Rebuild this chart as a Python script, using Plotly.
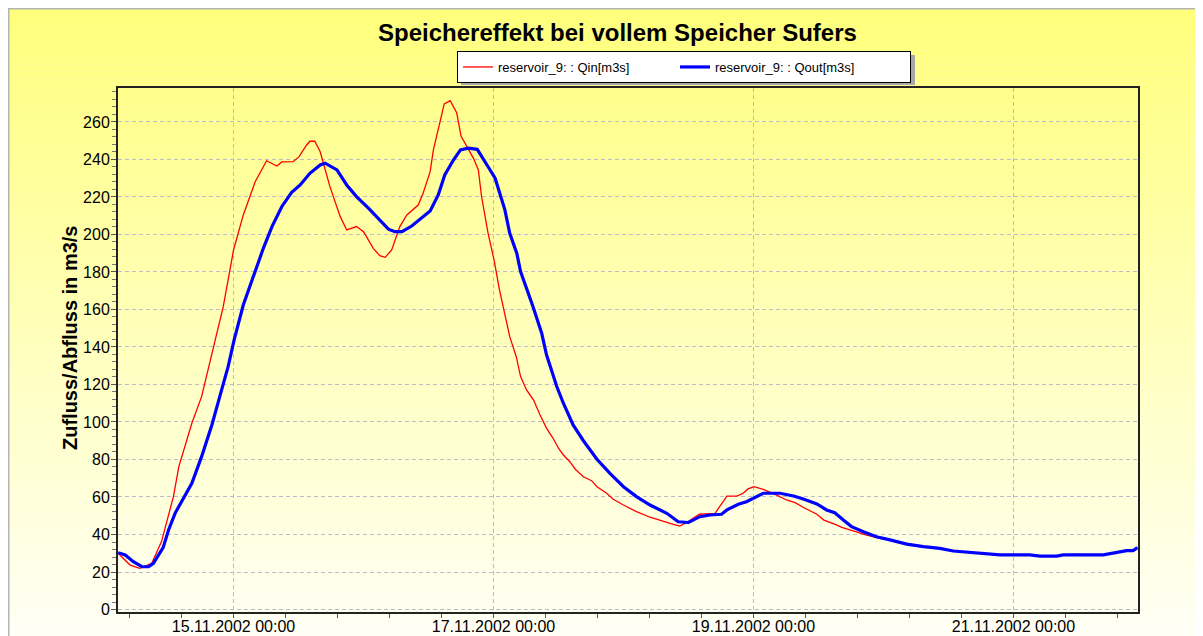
import pandas as pd
import plotly.graph_objects as go

# ---------------- data (hours relative to 15.11.2002 00:00) ----------------
BASE = "2002-11-15 00:00"

qin_hours = [-21.3, -19.1, -17.3, -15.1, -13.3, -11.1, -10.1, -7.7, -5.9, -4.3,
             -1.9, 0.0, 1.8, 4.0, 6.1, 8.0, 8.9, 11.0, 12.1, 13.5,
             14.1, 15.0, 16.0, 17.8, 19.7, 20.9, 22.7, 24.0, 25.8, 27.0,
             28.0, 29.2, 30.7, 32.0, 34.1, 35.0, 36.3, 36.9, 38.1, 38.9,
             40.0, 41.2, 42.0, 43.1, 44.3, 45.2, 45.8, 47.0, 48.1, 49.1,
             50.1, 51.0, 52.2, 53.0, 54.1, 55.4, 56.6, 57.8, 59.0, 60.0,
             60.9, 62.1, 63.1, 64.6, 66.1, 67.1, 68.9, 70.1, 72.0, 74.4,
             76.9, 79.4, 81.2, 82.4, 84.1, 86.0, 88.9, 91.1, 92.9, 94.1,
             95.0, 96.1, 97.8, 100.0, 102.1, 103.7, 105.5, 107.7, 109.0, 111.1,
             112.3, 114.4, 116.9, 119.4, 121.2, 124.3, 127.4, 130.4, 132.9, 136.0,
             139.1, 141.5, 147.0, 148.9, 152.0, 153.2, 155.6, 160.6, 162.4, 164.9,
             166.1, 166.9]
qin_values = [30.0, 23.7, 22.0, 24.6, 36.2, 60.2, 76.2, 99.3, 113.5, 133.1,
              161.5, 191.7, 210.4, 228.1, 239.3, 236.5, 238.7, 238.8, 241.5, 247.7,
              249.7, 249.7, 244.1, 225.5, 209.5, 202.4, 204.2, 201.5, 192.6, 188.7,
              187.8, 191.7, 204.2, 210.4, 215.7, 222.0, 233.5, 245.1, 259.3, 269.6,
              271.3, 264.9, 252.5, 246.8, 240.6, 234.4, 220.1, 200.6, 186.4, 170.4,
              158.0, 145.5, 134.8, 124.2, 117.1, 111.7, 103.7, 96.6, 91.3, 86.0,
              82.4, 78.8, 74.8, 70.8, 68.7, 65.5, 62.0, 58.8, 55.7, 52.2,
              49.2, 46.8, 45.4, 44.5, 47.2, 50.8, 51.3, 60.5, 60.5, 62.0,
              64.3, 65.5, 64.1, 61.4, 58.4, 57.0, 54.0, 50.8, 47.7, 45.4,
              43.8, 41.9, 39.7, 38.0, 37.1, 34.9, 33.5, 32.6, 31.2, 30.3,
              29.6, 29.1, 29.1, 28.5, 28.5, 29.1, 29.4, 29.1, 30.0, 31.4,
              31.4, 33.0]

qout_hours = [-21.3, -20.0, -18.5, -16.9, -15.7, -14.8, -13.0, -12.0, -10.8, -9.0,
              -7.7, -5.9, -4.0, -2.2, -1.0, 0.1, 1.8, 3.0, 4.3, 5.5,
              7.1, 8.9, 10.7, 12.3, 14.1, 16.0, 16.9, 19.1, 20.9, 22.7,
              24.9, 26.7, 28.6, 29.8, 31.1, 32.9, 34.7, 36.3, 37.8, 39.0,
              40.6, 41.9, 43.3, 45.0, 47.0, 48.3, 50.1, 51.0, 52.3, 53.0,
              55.3, 56.9, 57.8, 59.7, 60.9, 62.7, 64.6, 67.1, 69.5, 72.0,
              74.4, 76.9, 80.0, 82.1, 84.0, 86.1, 88.0, 90.1, 91.1, 93.2,
              94.7, 96.3, 97.8, 100.9, 103.4, 105.2, 107.7, 109.5, 111.0, 112.6,
              114.1, 116.3, 118.7, 121.2, 124.3, 127.4, 130.4, 132.9, 136.0, 139.1,
              141.5, 147.0, 148.9, 152.0, 153.2, 160.6, 162.4, 164.9, 166.1, 166.9]
qout_values = [30.3, 29.1, 25.5, 22.8, 22.8, 24.6, 33.0, 42.4, 51.3, 60.2,
               67.3, 81.5, 98.4, 117.1, 129.5, 143.7, 162.4, 172.2, 182.8, 192.6,
               204.2, 214.8, 222.3, 226.4, 232.6, 237.1, 238.0, 234.4, 226.4, 220.2,
               214.0, 208.6, 202.8, 201.5, 201.5, 204.5, 208.6, 212.5, 221.1, 231.7,
               239.7, 245.1, 246.0, 245.4, 236.1, 230.0, 213.1, 200.6, 190.0, 180.2,
               161.5, 147.3, 135.7, 118.8, 110.0, 98.4, 90.0, 80.1, 72.6, 65.5,
               60.2, 55.7, 51.3, 46.8, 46.4, 49.5, 50.4, 50.8, 53.1, 56.1,
               57.5, 59.8, 62.0, 62.0, 60.5, 58.9, 56.3, 53.1, 51.6, 47.7,
               44.2, 41.5, 38.8, 37.1, 34.9, 33.5, 32.6, 31.2, 30.3, 29.6,
               29.1, 29.1, 28.5, 28.5, 29.1, 29.1, 30.0, 31.4, 31.4, 33.0]

y_ticks = list(range(0, 261, 20))
x_tick_dates = ["2002-11-15", "2002-11-17", "2002-11-19", "2002-11-21"]
x_tick_labels = ["15.11.2002 00:00", "17.11.2002 00:00", "19.11.2002 00:00", "21.11.2002 00:00"]

series_names = ["reservoir_9: : Qin[m3s]", "reservoir_9: : Qout[m3s]"]
title_text = "Speichereffekt bei vollem Speicher Sufers"
y_title = "Zufluss/Abfluss in m3/s"

# ---------------- build ----------------
base = pd.Timestamp(BASE)
qin_t = base + pd.to_timedelta(qin_hours, unit="h")
qout_t = base + pd.to_timedelta(qout_hours, unit="h")

# the page body adds an 8px margin, so the figure is placed at (8, 8) on screen
OFF = 8
W, H = 1203 - OFF, 636 - OFF
L, R, T, B = 118, 1138, 88, 612          # plot area in screen pixels
PW, PH = R - L, B - T


def px(x):
    return (x - L) / PW


def py(y):
    return (B - y) / PH


FONT = "Liberation Sans, Arial, sans-serif"

fig = go.Figure()
fig.add_trace(go.Scatter(x=qin_t, y=qin_values, mode="lines", name=series_names[0],
                         line=dict(color="#ff0000", width=1.3)))
fig.add_trace(go.Scatter(x=qout_t, y=qout_values, mode="lines", name=series_names[1],
                         line=dict(color="#0000ff", width=3.2), legendwidth=190))

shapes = []
# background gradient (yellow -> almost white)
top_px, bot_px = 8, 640
n = 90
for i in range(n):
    y0 = top_px + (bot_px - top_px) * i / n
    y1 = top_px + (bot_px - top_px) * (i + 1) / n + 0.5
    f = i / (n - 1)
    b = int(round(124 + (246 - 124) * f))
    shapes.append(dict(type="rect", xref="paper", yref="paper", layer="below",
                       x0=px(8), x1=px(1215), y0=py(y0), y1=py(y1),
                       fillcolor=f"rgb(255,255,{b})", line=dict(width=0)))
# outer frame
shapes.append(dict(type="rect", xref="paper", yref="paper", layer="below",
                   x0=px(8.5), x1=px(1215), y0=py(8.5), y1=py(650),
                   fillcolor="rgba(0,0,0,0)", line=dict(color="#b4b4b4", width=2)))
# legend shadow
LEG_L, LEG_T, LEG_W, LEG_H = 457, 51, 454, 30
shapes.append(dict(type="rect", xref="paper", yref="paper", layer="below",
                   x0=px(LEG_L + 4), x1=px(LEG_L + LEG_W + 4),
                   y0=py(LEG_T + 4), y1=py(LEG_T + LEG_H + 4),
                   fillcolor="#a8a8a8", line=dict(width=0)))

fig.update_layout(
    width=W, height=H,
    margin=dict(l=L - OFF, r=W - (R - OFF), t=T - OFF, b=H - (B - OFF), autoexpand=False),
    paper_bgcolor="white",
    plot_bgcolor="rgba(0,0,0,0)",
    shapes=shapes,
    showlegend=True,
    legend=dict(orientation="h", x=px(LEG_L), xanchor="left", y=py(LEG_T), yanchor="top",
                bgcolor="white", bordercolor="black", borderwidth=1,
                font=dict(family=FONT, size=13, color="black"),
                itemwidth=30, tracegroupgap=0, entrywidth=172, entrywidthmode="pixels"),
    annotations=[
        dict(text=f"<b>{title_text}</b>", xref="paper", yref="paper",
             x=px(617.5), y=py(33), xanchor="center", yanchor="middle", showarrow=False,
             font=dict(family=FONT, size=24, color="black")),
        dict(text=f"<b>{y_title}</b>", xref="paper", yref="paper",
             x=px(70), y=py(338), xanchor="center", yanchor="middle", showarrow=False,
             textangle=-90, font=dict(family=FONT, size=20, color="black")),
    ],
    font=dict(family=FONT, color="black"),
)

fig.update_xaxes(
    type="date", automargin=False,
    range=["2002-11-14 02:40", "2002-11-21 23:00"],
    tickmode="array", tickvals=x_tick_dates, ticktext=x_tick_labels,
    tickfont=dict(family=FONT, size=16, color="black"),
    ticks="outside", ticklen=4, tickcolor="#555555", tickwidth=1,
    ticklabelstandoff=-5,
    minor=dict(ticks="outside", ticklen=4, tickcolor="#555555",
               dtick=0.4 * 86400000, tick0="2002-11-15", showgrid=False),
    showgrid=True, gridcolor="#bcbccb", gridwidth=1, griddash="4px,3px",
    showline=True, linecolor="#222222", linewidth=2, mirror=True,
    zeroline=False,
)
fig.update_yaxes(
    automargin=False,
    range=[-1.33, 278.1],
    tickmode="array", tickvals=y_ticks,
    tickfont=dict(family=FONT, size=16, color="black"),
    ticks="outside", ticklen=5, tickcolor="#555555", tickwidth=1,
    ticklabelstandoff=-2,
    minor=dict(ticks="outside", ticklen=4, tickcolor="#777777", dtick=4, showgrid=False),
    showgrid=True, gridcolor="#bcbccb", gridwidth=1, griddash="4px,3px",
    showline=True, linecolor="#222222", linewidth=2, mirror=True,
    zeroline=False,
)

fig.write_html("out.html")
